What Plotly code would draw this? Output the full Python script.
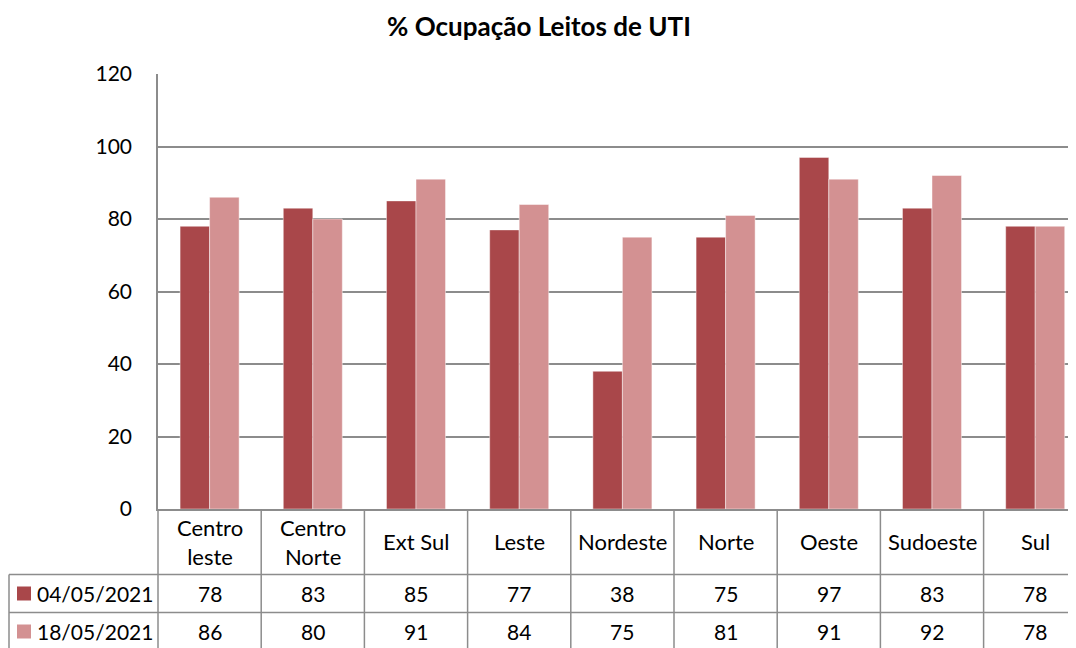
import plotly.graph_objects as go

categories = ["Centro<br>leste", "Centro<br>Norte", "Ext Sul", "Leste", "Nordeste",
              "Norte", "Oeste", "Sudoeste", "Sul"]
series_names = ["04/05/2021", "18/05/2021"]
values_0405 = [78, 83, 85, 77, 38, 75, 97, 83, 78]
values_1805 = [86, 80, 91, 84, 75, 81, 91, 92, 78]
y_ticks = [0, 20, 40, 60, 80, 100, 120]

colors = ["#A9474A", "#D39192"]
grid = "#8c8c8c"
FONT = "Lato"

# page body has an 8px margin; figure is sized to fill the rest of the 1076x648 window
OFF = 8
W, H = 1076 - OFF, 648 - OFF
# screen-space geometry of the plot area
S_LEFT, S_TOP, S_BOTTOM = 158, 74, 509
L = S_LEFT - OFF
T = S_TOP - OFF
B = H - (S_BOTTOM - OFF)
R = 0
plot_w = W - L - R
plot_h = H - T - B
cat_w = 103.2
r0 = -0.5
r1 = r0 + plot_w / cat_w

def px(xv):
    return (xv - r0) / (r1 - r0)

def pxp(sx):
    return (sx - S_LEFT) / plot_w

def py(sy):
    return (S_BOTTOM - sy) / plot_h

idx = list(range(len(categories)))
fig = go.Figure()
for name, vals, c in zip(series_names, [values_0405, values_1805], colors):
    fig.add_trace(go.Bar(x=idx, y=vals, name=name,
                         marker=dict(color=c, line=dict(color="rgba(255,255,255,0.45)", width=1))))

shapes = []
line = dict(color=grid, width=1.5)
for p in [574.5, 612.5, 650]:
    shapes.append(dict(type="line", xref="paper", yref="paper", x0=pxp(9), x1=1.0,
                       y0=py(p), y1=py(p), line=line))
for k in range(-1, len(categories)):
    xv = k + 0.5
    if xv > r1:
        continue
    shapes.append(dict(type="line", xref="paper", yref="paper", x0=px(xv), x1=px(xv),
                       y0=py(509), y1=py(652), line=line))
shapes.append(dict(type="line", xref="paper", yref="paper", x0=pxp(9), x1=pxp(9),
                   y0=py(574.5), y1=py(652), line=line))

annotations = []
for i, cat in enumerate(categories):
    annotations.append(dict(x=i, xref="x", y=py(541.5), yref="paper", text=cat, showarrow=False,
                            font=dict(family=FONT, size=22, color="#000"), yanchor="middle"))
    annotations.append(dict(x=i, xref="x", y=py(593.5), yref="paper", text=str(values_0405[i]),
                            showarrow=False, font=dict(family=FONT, size=21, color="#000"), yanchor="middle"))
    annotations.append(dict(x=i, xref="x", y=py(631.5), yref="paper", text=str(values_1805[i]),
                            showarrow=False, font=dict(family=FONT, size=21, color="#000"), yanchor="middle"))

for name, c, ymid in zip(series_names, colors, [593.5, 631.5]):
    shapes.append(dict(type="rect", xref="paper", yref="paper", x0=pxp(17), x1=pxp(31),
                       y0=py(ymid + 7), y1=py(ymid - 7), fillcolor=c, line=dict(width=0)))
    annotations.append(dict(x=pxp(35), xref="paper", y=py(ymid), yref="paper", text=name, showarrow=False,
                            xanchor="left", yanchor="middle", font=dict(family=FONT, size=21, color="#000")))

fig.update_layout(
    width=W, height=H,
    margin=dict(l=L, r=R, t=T, b=B, pad=0),
    paper_bgcolor="white", plot_bgcolor="white",
    title=dict(text="<b>% Ocupação Leitos de UTI</b>", x=(539 - OFF) / W, xref="container", xanchor="center",
               y=1 - (27 - OFF) / H, yref="container", yanchor="middle",
               font=dict(family=FONT, size=26, color="#000")),
    showlegend=False,
    barmode="group", bargap=0.428, bargroupgap=0,
    shapes=shapes, annotations=annotations,
    font=dict(family=FONT, size=20, color="#000"),
)
fig.update_xaxes(range=[r0, r1], showticklabels=False, showgrid=False, zeroline=False,
                 showline=True, linecolor=grid, linewidth=1.5, ticks="", automargin=False)
fig.update_yaxes(range=[0, 120], tickvals=y_ticks, showgrid=True, gridcolor=grid, gridwidth=1.5,
                 zeroline=False, showline=True, linecolor=grid, linewidth=1.5, ticks="",
                 ticklabelstandoff=20, automargin=False, tickfont=dict(family=FONT, size=21, color="#000"))

fig.write_html("out.html")
